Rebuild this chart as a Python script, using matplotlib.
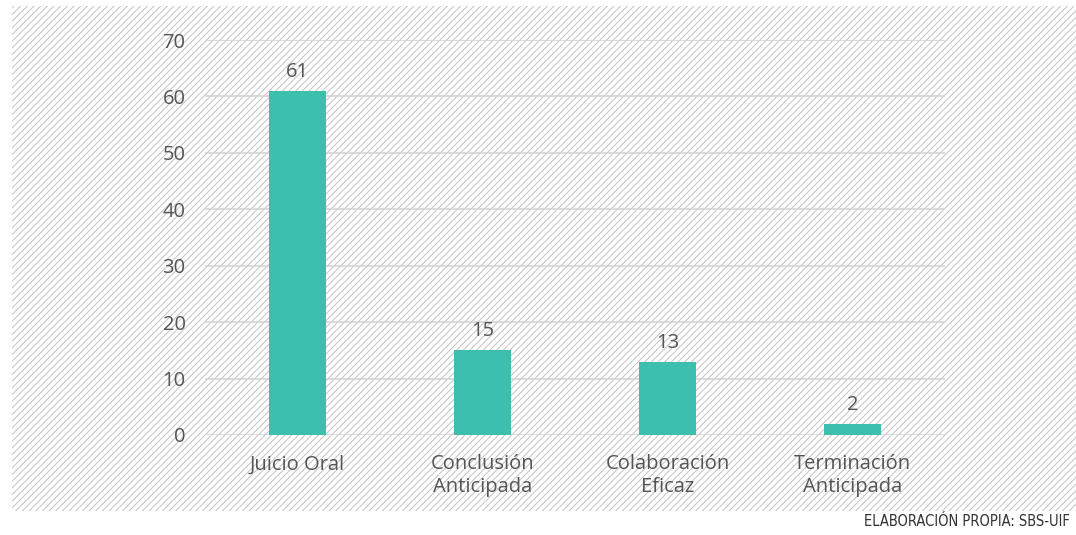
import matplotlib.pyplot as plt
from matplotlib.patches import Rectangle

categories = ["Juicio Oral", "Conclusión\nAnticipada", "Colaboración\nEficaz", "Terminación\nAnticipada"]
values = [61, 15, 13, 2]
yticks = [0, 10, 20, 30, 40, 50, 60, 70]

plt.rcParams['font.family'] = ['Open Sans', 'DejaVu Sans']
plt.rcParams['hatch.linewidth'] = 0.7

fig = plt.figure(figsize=(10.76, 5.35), dpi=100)
# hatched background
bg = Rectangle((12 / 1076, 24 / 535), 1 - 12 / 1076, 1 - 6 / 535 - 24 / 535,
               transform=fig.transFigure, facecolor='white', edgecolor='#c2c2c2',
               linewidth=0, hatch='/////', zorder=-5)
fig.patches.append(bg)

ax = fig.add_axes([205 / 1076, 1 - 435 / 535, 740 / 1076, 395 / 535])
ax.patch.set_alpha(0)
x = range(len(categories))
ax.bar(x, values, width=0.31, color='#3dbfad', zorder=3)
for xi, v in zip(x, values):
    ax.text(xi, v + 1.6, str(v), ha='center', va='bottom', fontsize=14.5, color='#555555')

ax.set_xlim(-0.5, 3.5)
ax.set_ylim(0, 70)
ax.set_yticks(yticks)
ax.set_xticks(list(x))
ax.set_xticklabels(categories, fontsize=14.5, color='#555555', linespacing=1.15)
ax.tick_params(axis='y', labelsize=14.5, labelcolor='#555555', length=0, pad=14)
ax.tick_params(axis='x', length=0, pad=14)
ax.grid(axis='y', color='#d4d4d4', linewidth=1.2, zorder=1)
for s in ax.spines.values():
    s.set_visible(False)

fig.text(1070 / 1076, 1 - 522 / 535, "ELABORACIÓN PROPIA: SBS-UIF", ha='right', va='center',
         fontsize=10.5, color='#333333', family='DejaVu Sans', fontstretch='condensed')

fig.savefig('out.png', dpi=100)
